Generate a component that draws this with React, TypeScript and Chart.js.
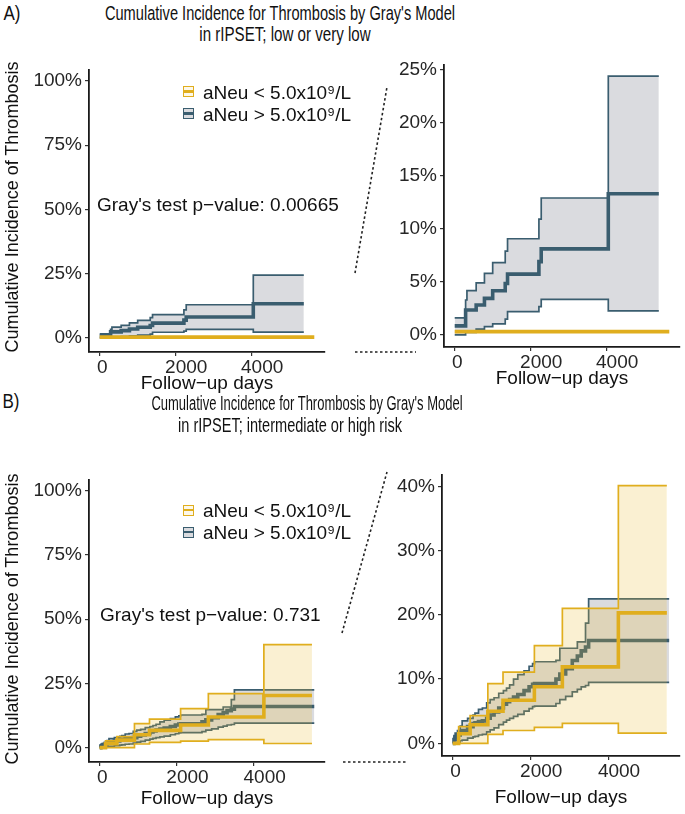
import React, { useEffect, useLayoutEffect, useRef } from 'react';
import { Chart, registerables } from 'chart.js';
Chart.register(...registerables);

const FONT = '"Liberation Sans", Arial, Helvetica, sans-serif';
const YEL = '#E0AE1E';
const BLU = '#3A5D6F';
const BLU_FILL = 'rgba(118,122,136,0.27)';
const YEL_FILL = 'rgba(230,185,50,0.22)';

// ---------- Panel A: rIPSET low / very low ----------
const aBlueDays = [0, 287, 322, 565, 783, 1000, 1330, 1391, 2217, 2278, 4044, 5374];
const aBlueEst = [0.84, 2.34, 2.34, 2.81, 3.44, 4.16, 4.84, 5.72, 6.9, 8.1, 13.3, 13.3];
const aBlueHi = [1.6, 3.28, 4.16, 4.9, 5.8, 6.8, 7.9, 9.06, 10.9, 12.9, 24.4, 24.4];
const aBlueLo = [0, 0.22, 0.22, 0.53, 0.78, 1.03, 1.47, 2.19, 2.66, 3.34, 2.25, 2.25];
const aYelDays = [0, 5650];
const aYelEst = [0.3, 0.3];

// ---------- Panel B: rIPSET intermediate / high ----------
const bYelDays = [0, 150, 445, 900, 1290, 2096, 2815, 4254, 5500];
const bYelEst = [0, 1.5, 2.9, 5.0, 6.7, 8.8, 11.9, 20.3, 20.3];
const bYelHi = [0, 2.6, 4.3, 9.3, 11.1, 15.2, 21.0, 40.1, 40.1];
const bYelLo = [0, 0, 0, 1.4, 2.0, 2.5, 3.1, 1.6, 1.6];

const bBlueDays = [0, 30, 60, 120, 190, 240, 380, 520, 570, 660, 760, 870, 960, 1060, 1180, 1300, 1380, 1460, 1560, 1670, 1830, 1960, 2050, 2100, 2650, 2750, 2900, 3070, 3200, 3300, 3410, 3490, 5560];
const bBlueEst = [0, 0.6, 0.9, 1.3, 1.7, 2.0, 2.6, 3.1, 3.2, 3.4, 3.5, 3.9, 4.4, 4.9, 5.5, 6.1, 6.5, 6.8, 7.2, 7.6, 8.2, 8.8, 9.2, 9.3, 10.0, 10.8, 11.6, 12.9, 13.6, 14.4, 15.0, 16.0, 16.0];
const bBlueHi = [0, 1.2, 1.6, 2.0, 2.7, 3.5, 3.9, 4.4, 4.7, 5.3, 5.5, 6.3, 6.8, 7.1, 7.8, 8.2, 8.6, 9.1, 10.0, 10.7, 11.3, 12.0, 12.4, 12.7, 12.9, 14.8, 14.8, 14.8, 15.8, 15.8, 18.7, 22.5, 22.5];
const bBlueLo = [0, 0, 0.1, 0.2, 0.4, 0.5, 0.8, 1.0, 1.1, 1.3, 1.4, 1.8, 2.1, 2.4, 2.9, 3.3, 3.6, 3.9, 4.2, 4.5, 5.0, 5.4, 5.7, 5.8, 6.2, 6.8, 7.3, 8.0, 8.4, 8.8, 9.0, 9.5, 9.5];

// ---------- ticks & labels ----------
const xTicks = [0, 2000, 4000];
const yTicksFull = [0, 25, 50, 75, 100];
const yTicksAZoom = [0, 5, 10, 15, 20, 25];
const yTicksBZoom = [0, 10, 20, 30, 40];
const legendLabels = ['aNeu < 5.0x10\u2079/L', 'aNeu > 5.0x10\u2079/L'];
const xTitle = 'Follow\u2212up days';
const yTitle = 'Cumulative Incidence of Thrombosis';

type Group = { days: number[]; est: number[]; hi?: number[]; lo?: number[]; color: string; fill: string };
type Rect = { left: number; top: number; width: number; height: number };
type Area = { left: number; top: number; right: number; bottom: number };

const pts = (days: number[], vals: number[]) => days.map((d, i) => ({ x: d, y: vals[i] }));

function StepChart(props: {
  rect: Rect; area: Area; xRange: [number, number]; yRange: [number, number];
  yTicks: number[]; groups: Group[]; titlePad: number;
}) {
  const ref = useRef<HTMLCanvasElement>(null);
  useEffect(() => {
    const { rect, area, xRange, yRange, yTicks, groups, titlePad } = props;
    const yW = area.left - rect.left;
    const xH = rect.top + rect.height - area.bottom;
    const padTop = area.top - rect.top;
    const padRight = rect.left + rect.width - area.right;
    const datasets: any[] = [];
    let order = 100;
    groups.forEach((g) => {
      if (g.hi && g.lo) {
        const loIdx = datasets.length;
        datasets.push({ data: pts(g.days, g.lo), borderColor: g.color, borderWidth: 1.7, backgroundColor: g.fill, fill: loIdx + 1, stepped: 'before', pointRadius: 0, order: order-- });
        datasets.push({ data: pts(g.days, g.hi), borderColor: g.color, borderWidth: 1.7, fill: false, stepped: 'before', pointRadius: 0, order: order-- });
      }
      datasets.push({ data: pts(g.days, g.est), borderColor: g.color, borderWidth: 3.6, fill: false, stepped: 'before', pointRadius: 0, order: order-- });
    });
    const tickFont = { family: FONT, size: 19 };
    const chart = new Chart(ref.current!, {
      type: 'line',
      data: { datasets },
      options: {
        animation: false,
        responsive: false,
        devicePixelRatio: 1,
        layout: { autoPadding: false, padding: { top: padTop, right: padRight, left: 0, bottom: 0 } },
        plugins: { legend: { display: false }, tooltip: { enabled: false }, title: { display: false } },
        scales: {
          x: {
            type: 'linear', min: xRange[0], max: xRange[1],
            afterBuildTicks: (s: any) => { s.ticks = xTicks.map((v) => ({ value: v })); },
            afterFit: (s: any) => { s.height = xH; },
            border: { display: true, color: '#1a1a1a', width: 1.8 },
            grid: { display: true, drawOnChartArea: false, drawTicks: true, tickLength: 4, color: '#333', lineWidth: 1.2 },
            ticks: {
              font: tickFont, color: '#262626', padding: 0, maxRotation: 0, autoSkip: false,
              callback: (v: any) => (v === 0 ? ' 0' : '    ' + v),
            },
            title: { display: true, text: xTitle, font: { family: FONT, size: 19 }, color: '#111', padding: { top: 0, bottom: titlePad } },
          },
          y: {
            type: 'linear', min: yRange[0], max: yRange[1],
            afterBuildTicks: (s: any) => { s.ticks = yTicks.map((v) => ({ value: v })); },
            afterFit: (s: any) => { s.width = yW; },
            border: { display: true, color: '#1a1a1a', width: 1.8 },
            grid: { display: true, drawOnChartArea: false, drawTicks: true, tickLength: 4, color: '#333', lineWidth: 1.2 },
            ticks: { font: tickFont, color: '#262626', padding: 3, autoSkip: false, callback: (v: any) => v + '%' },
          },
        },
      } as any,
    });
    return () => chart.destroy();
  }, []);
  const { rect } = props;
  return (
    <canvas ref={ref} width={rect.width} height={rect.height}
      style={{ position: 'absolute', left: rect.left, top: rect.top, width: rect.width, height: rect.height }} />
  );
}

function FitText({ text, cx, cy, width, size }: { text: string; cx: number; cy: number; width: number; size: number }) {
  const ref = useRef<HTMLSpanElement>(null);
  useLayoutEffect(() => {
    const el = ref.current;
    if (!el) return;
    const w = el.offsetWidth;
    el.style.transform = `translate(-50%, -50%) scaleX(${width / w})`;
  }, []);
  return (
    <span ref={ref} style={{ position: 'absolute', left: cx, top: cy, whiteSpace: 'nowrap', fontFamily: FONT, fontSize: size, lineHeight: 1, color: '#111', transform: 'translate(-50%,-50%)' }}>{text}</span>
  );
}

function Txt({ text, left, cy, size }: { text: string; left: number; cy: number; size: number }) {
  return (
    <span style={{ position: 'absolute', left, top: cy, whiteSpace: 'nowrap', fontFamily: FONT, fontSize: size, lineHeight: 1, color: '#111', transform: 'translateY(-50%)' }}>{text}</span>
  );
}

function VText({ text, cx, cy, size }: { text: string; cx: number; cy: number; size: number }) {
  return (
    <span style={{ position: 'absolute', left: cx, top: cy, whiteSpace: 'nowrap', fontFamily: FONT, fontSize: size, lineHeight: 1, color: '#111', transform: 'translate(-50%,-50%) rotate(-90deg)' }}>{text}</span>
  );
}

function LegendKey({ left, cy, color, bg }: { left: number; cy: number; color: string; bg: string }) {
  return (
    <div style={{ position: 'absolute', left, top: cy - 6, width: 9, height: 9, border: `1.6px solid ${color}`, background: bg }}>
      <div style={{ position: 'absolute', left: 0, right: 0, top: 3.2, height: 2.8, background: color }} />
    </div>
  );
}

function Legend({ top1, top2 }: { top1: number; top2: number }) {
  return (
    <>
      <LegendKey left={183} cy={top1} color={YEL} bg="#fdf8ea" />
      <Txt text={legendLabels[0]} left={203} cy={top1 - 0.5} size={19} />
      <LegendKey left={183} cy={top2} color={BLU} bg="#dadbdf" />
      <Txt text={legendLabels[1]} left={203} cy={top2 - 0.5} size={19} />
    </>
  );
}

export default function App() {
  const groupsA: Group[] = [
    { days: aBlueDays, est: aBlueEst, hi: aBlueHi, lo: aBlueLo, color: BLU, fill: BLU_FILL },
    { days: aYelDays, est: aYelEst, color: YEL, fill: YEL_FILL },
  ];
  const groupsB: Group[] = [
    { days: bBlueDays, est: bBlueEst, hi: bBlueHi, lo: bBlueLo, color: BLU, fill: BLU_FILL },
    { days: bYelDays, est: bYelEst, hi: bYelHi, lo: bYelLo, color: YEL, fill: YEL_FILL },
  ];
  return (
    <div style={{ position: 'absolute', left: 0, top: 0, width: 685, height: 814, background: '#fff', overflow: 'hidden' }}>
      <StepChart rect={{ left: 20, top: 55, width: 320, height: 340 }} area={{ left: 89, top: 66, right: 325, bottom: 352 }}
        xRange={[-282, 5932]} yRange={[-5.5, 104.5]} yTicks={yTicksFull} groups={groupsA} titlePad={0} />
      <StepChart rect={{ left: 390, top: 50, width: 295, height: 345 }} area={{ left: 444, top: 63, right: 680, bottom: 347 }}
        xRange={[-282, 5932]} yRange={[-1.15, 25.5]} yTicks={yTicksAZoom} groups={groupsA} titlePad={5} />
      <StepChart rect={{ left: 20, top: 465, width: 320, height: 349 }} area={{ left: 89, top: 477, right: 325, bottom: 762 }}
        xRange={[-278, 5838]} yRange={[-5.6, 104.4]} yTicks={yTicksFull} groups={groupsB} titlePad={4} />
      <StepChart rect={{ left: 390, top: 460, width: 295, height: 354 }} area={{ left: 442, top: 473, right: 680, bottom: 756 }}
        xRange={[-278, 5838]} yRange={[-1.97, 41.86]} yTicks={yTicksBZoom} groups={groupsB} titlePad={5} />

      <FitText text="A)" cx={11.5} cy={12.5} width={17} size={20} />
      <FitText text="Cumulative Incidence for Thrombosis by Gray's Model" cx={280} cy={13.3} width={350} size={20.5} />
      <FitText text="in rIPSET; low or very low" cx={284.5} cy={33.5} width={171} size={20.5} />
      <FitText text="B)" cx={11} cy={400.5} width={17} size={20} />
      <FitText text="Cumulative Incidence for Thrombosis by Gray's Model" cx={307} cy={403} width={311} size={20} />
      <FitText text="in rIPSET; intermediate or high risk" cx={290} cy={425} width={224} size={20} />

      <VText text={yTitle} cx={12} cy={207} size={18} />
      <VText text={yTitle} cx={12} cy={619} size={18} />

      <Legend top1={92} top2={114} />
      <Legend top1={510.5} top2={532.5} />

      <Txt text={"Gray's test p\u2212value: 0.00665"} left={97} cy={203.5} size={19} />
      <Txt text={"Gray's test p\u2212value: 0.731"} left={100} cy={613.5} size={19} />

      <svg width={685} height={814} style={{ position: 'absolute', left: 0, top: 0, pointerEvents: 'none' }}>
        <g stroke="#222" strokeWidth={1.6} strokeDasharray="2.5 2.5" fill="none">
          <line x1={355} y1={273} x2={387} y2={87} />
          <line x1={355} y1={352} x2={416} y2={352} />
          <line x1={342} y1={633} x2={387} y2={472} />
          <line x1={343} y1={762} x2={406} y2={762} />
        </g>
      </svg>
    </div>
  );
}
